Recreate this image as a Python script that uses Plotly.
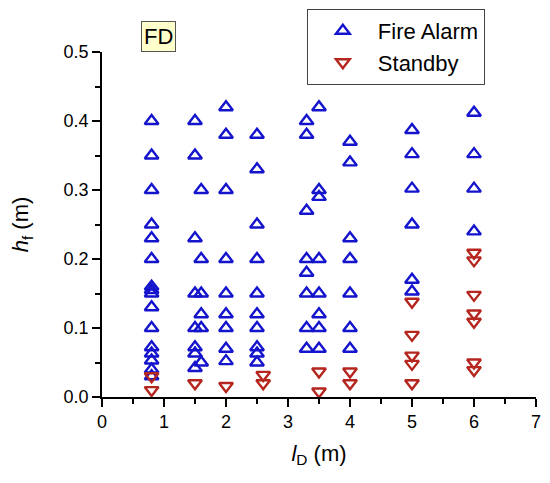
import plotly.graph_objects as go

# Fire Alarm (blue, up triangles)
alarm_x = ([0.8] * 16 + [1.5] * 8 + [1.6] * 6 + [2.0] * 9 + [2.5] * 10
           + [3.3] * 8 + [3.5] * 8 + [4.0] * 7 + [5.0] * 6 + [6.0] * 4)
alarm_y = ([0.40, 0.35, 0.30, 0.25, 0.23, 0.20, 0.16, 0.155, 0.15, 0.13, 0.10, 0.072, 0.063, 0.053, 0.04, 0.03]
           + [0.40, 0.35, 0.23, 0.15, 0.10, 0.072, 0.063, 0.042]
           + [0.30, 0.20, 0.15, 0.12, 0.10, 0.05]
           + [0.42, 0.38, 0.30, 0.20, 0.15, 0.12, 0.10, 0.07, 0.052]
           + [0.38, 0.33, 0.25, 0.20, 0.15, 0.12, 0.10, 0.072, 0.063, 0.05]
           + [0.40, 0.38, 0.27, 0.20, 0.18, 0.15, 0.10, 0.07]
           + [0.42, 0.30, 0.29, 0.20, 0.15, 0.12, 0.10, 0.07]
           + [0.37, 0.34, 0.23, 0.20, 0.15, 0.10, 0.07]
           + [0.387, 0.352, 0.302, 0.25, 0.17, 0.153]
           + [0.412, 0.352, 0.302, 0.24])

# Standby (red, down triangles)
standby_x = [0.8, 0.8, 1.5, 2.0, 2.6, 2.6, 3.5, 3.5, 4.0, 4.0,
             5.0, 5.0, 5.0, 5.0, 5.0, 6.0, 6.0, 6.0, 6.0, 6.0, 6.0, 6.0]
standby_y = [0.03, 0.01, 0.02, 0.016, 0.032, 0.02, 0.037, 0.008, 0.037, 0.02,
             0.138, 0.09, 0.06, 0.048, 0.02, 0.209, 0.198, 0.148, 0.121, 0.109, 0.05, 0.039]

FONT = 'Liberation Sans, Arial'

fig = go.Figure()

fig.add_trace(go.Scatter(
    x=alarm_x, y=alarm_y, mode='markers', name='Fire Alarm',
    marker=dict(symbol='triangle-up-open', size=12, color='#1414CC', line=dict(width=2.4)),
    cliponaxis=False
))
fig.add_trace(go.Scatter(
    x=standby_x, y=standby_y, mode='markers', name='Standby',
    marker=dict(symbol='triangle-down-open', size=12, color='#B5261E', line=dict(width=2.4)),
    cliponaxis=False
))

axis_style = dict(
    showgrid=False, zeroline=False, showline=True, linecolor='black', linewidth=1.5,
    ticks='outside', ticklen=8, tickwidth=1.5, tickcolor='black',
    tickfont=dict(family=FONT, size=18, color='black'),
    mirror=False,
)

fig.update_xaxes(
    range=[0, 7], dtick=1, **axis_style,
    minor=dict(ticks='outside', ticklen=5, tickwidth=1.5, tickcolor='black', dtick=0.5),
    title=dict(text='<i>l</i><sub>D</sub> (m)', font=dict(family=FONT, size=22, color='black'), standoff=14)
)
fig.update_yaxes(
    range=[0, 0.5], dtick=0.1, tickformat='.1f', **axis_style,
    minor=dict(ticks='outside', ticklen=5, tickwidth=1.5, tickcolor='black', dtick=0.05),
    title=dict(text='<i>h</i><sub>f</sub> (m)', font=dict(family=FONT, size=22, color='black'), standoff=32)
)

fig.add_annotation(
    text='FD', xref='paper', yref='paper', x=0.131, y=1.046,
    xanchor='center', yanchor='middle',
    showarrow=False, font=dict(family=FONT, size=22, color='black'),
    bgcolor='#FFFFCC', bordercolor='#555555', borderwidth=1, borderpad=2
)

# page body adds 8px offset, so the figure is sized 8px smaller
fig.update_layout(
    width=542, height=475,
    margin=dict(l=94, r=14, t=44, b=86, autoexpand=False),
    plot_bgcolor='white', paper_bgcolor='white',
    showlegend=True,
    legend=dict(
        x=0.472, y=1.125, xanchor='left', yanchor='top',
        bordercolor='#444444', borderwidth=1, bgcolor='white',
        font=dict(family=FONT, size=22, color='black'),
        tracegroupgap=0, itemwidth=60
    )
)

fig.write_html("out.html")
